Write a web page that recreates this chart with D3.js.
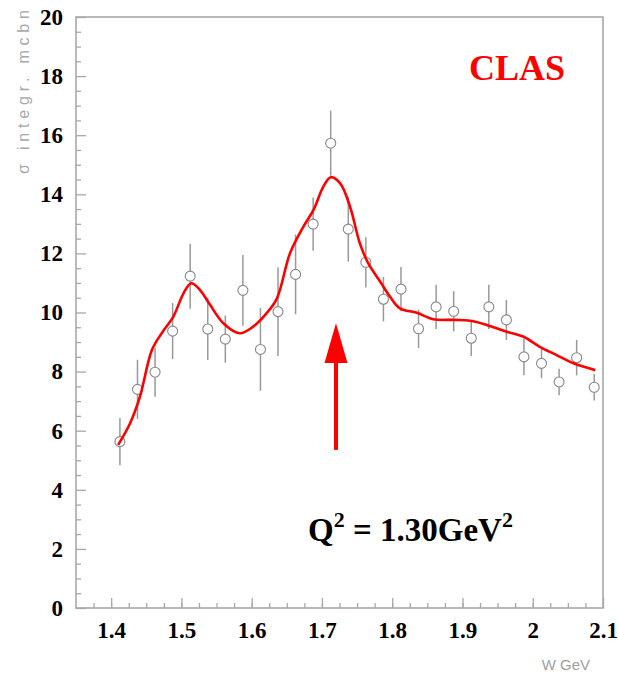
<!DOCTYPE html>
<html>
<head>
<meta charset="utf-8">
<script src="https://cdn.jsdelivr.net/npm/d3@7/dist/d3.min.js"></script>
<style>
html,body{margin:0;padding:0;background:#fff;}
svg{display:block;}
</style>
</head>
<body>
<svg id="chart" width="619" height="674"></svg>
<script>
// ---- data ----
const W = [1.4125,1.4375,1.4625,1.4875,1.5125,1.5375,1.5625,1.5875,1.6125,1.6375,1.6625,1.6875,1.7125,1.7375,1.7625,1.7875,1.8125,1.8375,1.8625,1.8875,1.9125,1.9375,1.9625,1.9875,2.0125,2.0375,2.0625,2.0875];
const sigma = [5.63,7.40,7.98,9.37,11.23,9.44,9.10,10.75,8.75,10.03,11.29,12.99,15.73,12.82,11.70,10.45,10.79,9.45,10.19,10.04,9.13,10.19,9.75,8.50,8.28,7.65,8.47,7.47];
const sigmaErr = [0.80,1.00,0.83,0.95,1.10,1.05,0.80,1.20,1.40,1.50,1.35,0.90,1.10,1.10,0.85,0.75,0.75,0.65,0.75,0.68,0.60,0.75,0.68,0.62,0.50,0.45,0.60,0.45];

const fitW = [1.410,1.427,1.441,1.458,1.472,1.4885,1.503,1.514,1.5265,1.541,1.560,1.583,1.602,1.621,1.636,1.6545,1.6735,1.688,1.702,1.7125,1.726,1.740,1.754,1.766,1.783,1.797,1.811,1.835,1.8585,1.887,1.911,1.9345,1.963,1.987,2.010,2.034,2.058,2.089];
const fitSigma = [5.52,6.25,7.15,8.73,9.30,9.86,10.65,10.99,10.76,10.25,9.63,9.30,9.52,9.97,10.48,12.00,12.90,13.47,14.26,14.58,14.37,13.58,12.34,11.66,11.04,10.53,10.14,9.99,9.77,9.75,9.72,9.58,9.35,9.18,8.84,8.56,8.28,8.05];

const xTicks = [1.4,1.5,1.6,1.7,1.8,1.9,2.0,2.1];
const xTickLabels = ["1.4","1.5","1.6","1.7","1.8","1.9","2","2.1"];
const yTicks = [0,2,4,6,8,10,12,14,16,18,20];
const xDomain = [1.35, 2.1];
const yDomain = [0, 20];

const arrowW = 1.72;
const arrowTip = 9.64, arrowHeadBase = 8.29, arrowTail = 5.35;

const yTitle = "σ integr. mcbn";
const xTitle = "W GeV";
const expLabel = "CLAS";

// ---- layout ----
const svg = d3.select("#chart");
const L = 76, R = 603, T = 17, B = 608;
const x = d3.scaleLinear().domain(xDomain).range([L, R]);
const y = d3.scaleLinear().domain(yDomain).range([B, T]);
const frameColor = "#a8a8a8";
const serif = "'Liberation Serif', 'Times New Roman', serif";

// frame
svg.append("rect").attr("x", L).attr("y", T).attr("width", R - L).attr("height", B - T)
  .attr("fill", "none").attr("stroke", frameColor).attr("stroke-width", 1.6);

// x axis ticks (inward)
const xMinor = d3.range(0, 31).map(i => 1.35 + i * 0.025).filter(v => v > 1.36 && v < 2.09);
const xAxisMinor = d3.axisBottom(x).tickValues(xMinor).tickSize(-5).tickFormat("");
const xAxisMajor = d3.axisBottom(x).tickValues(xTicks).tickSize(-10).tickFormat((d, i) => xTickLabels[i]).tickPadding(14);
const gxm = svg.append("g").attr("transform", `translate(0,${B})`).call(xAxisMinor);
const gx = svg.append("g").attr("transform", `translate(0,${B})`).call(xAxisMajor);
[gxm, gx].forEach(g => {
  g.select(".domain").remove();
  g.selectAll(".tick line").attr("stroke", frameColor).attr("stroke-width", 1.3);
});
gx.selectAll(".tick text")
  .attr("font-family", serif)
  .attr("font-weight", "bold").attr("font-size", 23).attr("fill", "#000")
  .attr("dy", "0.68em");

// y axis ticks (inward)
const yMinor = d3.range(0, 41).map(i => i * 0.5).filter(v => v % 2 !== 0);
const yAxisMinor = d3.axisLeft(y).tickValues(yMinor).tickSize(-5).tickFormat("");
const yAxisMajor = d3.axisLeft(y).tickValues(yTicks).tickSize(-10).tickFormat(d3.format("d")).tickPadding(13);
const gym = svg.append("g").attr("transform", `translate(${L},0)`).call(yAxisMinor);
const gy = svg.append("g").attr("transform", `translate(${L},0)`).call(yAxisMajor);
[gym, gy].forEach(g => {
  g.select(".domain").remove();
  g.selectAll(".tick line").attr("stroke", frameColor).attr("stroke-width", 1.3);
});
gy.selectAll(".tick text")
  .attr("font-family", serif)
  .attr("font-weight", "bold").attr("font-size", 23).attr("fill", "#000");

// axis titles
svg.append("text")
  .attr("transform", `translate(29,92) rotate(-90)`)
  .attr("text-anchor", "middle")
  .attr("font-family", "'Liberation Sans', Arial, sans-serif")
  .attr("font-size", 16).attr("fill", "#a8a8a8")
  .attr("textLength", 164).attr("lengthAdjust", "spacing")
  .text(yTitle);
svg.append("text")
  .attr("x", 590).attr("y", 670).attr("text-anchor", "end")
  .attr("font-family", "'Liberation Sans', Arial, sans-serif")
  .attr("font-size", 15).attr("fill", "#a0a0a0")
  .text(xTitle);

// data points with error bars
const pts = W.map((w, i) => ({w, s: sigma[i], e: sigmaErr[i]}));
const gp = svg.append("g");
gp.selectAll("line.err").data(pts).enter().append("line")
  .attr("class", "err")
  .attr("x1", d => x(d.w)).attr("x2", d => x(d.w))
  .attr("y1", d => y(d.s - d.e)).attr("y2", d => y(d.s + d.e))
  .attr("stroke", "#999").attr("stroke-width", 1.5);
gp.selectAll("circle").data(pts).enter().append("circle")
  .attr("cx", d => x(d.w)).attr("cy", d => y(d.s)).attr("r", 5)
  .attr("fill", "#fff").attr("stroke", "#888").attr("stroke-width", 1.1);

// fit curve
const line = d3.line().x(d => x(d[0])).y(d => y(d[1])).curve(d3.curveCatmullRom.alpha(0.5));
svg.append("path").datum(fitW.map((w, i) => [w, fitSigma[i]]))
  .attr("d", line).attr("fill", "none").attr("stroke", "#ff0000").attr("stroke-width", 2.6);

// arrow
const ax = x(arrowW);
svg.append("line").attr("x1", ax).attr("x2", ax)
  .attr("y1", y(arrowTail)).attr("y2", y(arrowHeadBase) - 1)
  .attr("stroke", "#ff0000").attr("stroke-width", 4);
svg.append("path")
  .attr("d", `M${ax},${y(arrowTip)} L${ax - 11.5},${y(arrowHeadBase)} L${ax + 11.5},${y(arrowHeadBase)} Z`)
  .attr("fill", "#ff0000");

// labels
svg.append("text").attr("x", 517).attr("y", 80).attr("text-anchor", "middle")
  .attr("font-family", serif)
  .attr("font-weight", "bold").attr("font-size", 36).attr("fill", "#ff0000")
  .text(expLabel);

const q = svg.append("text").attr("x", 308).attr("y", 541)
  .attr("font-family", serif)
  .attr("font-weight", "bold").attr("font-size", 33).attr("fill", "#000");
q.append("tspan").text("Q");
q.append("tspan").attr("font-size", 22).attr("dy", -14).text("2");
q.append("tspan").attr("dy", 14).text(" = 1.30GeV");
q.append("tspan").attr("font-size", 22).attr("dy", -14).text("2");
</script>
</body>
</html>
